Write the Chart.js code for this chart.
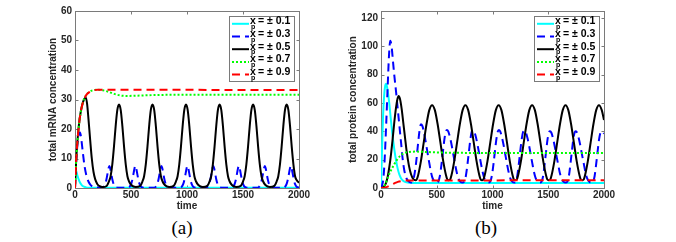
<!DOCTYPE html>
<html>
<head>
<meta charset="utf-8">
<script src="https://cdn.jsdelivr.net/npm/chart.js@4.4.0/dist/chart.umd.min.js"></script>
<style>
  html, body { margin: 0; padding: 0; background: #fff; }
  #pagina { position: relative; width: 676px; height: 242px; overflow: hidden; }
  canvas { position: absolute; top: 0; }
  #graficoA { left: 0; }
  #graficoB { left: 338px; }
  .legenda { position: absolute; top: 218px; width: 40px; margin-left: -20px; text-align: center;
             font-family: "Liberation Serif", "Times New Roman", serif;
             font-size: 19px; line-height: 20px; color: #000; }
</style>
</head>
<body>
<div id="pagina">
  <canvas id="graficoA" width="338" height="215"></canvas>
  <canvas id="graficoB" width="338" height="215"></canvas>
  <div class="legenda" style="left:182px">(a)</div>
  <div class="legenda" style="left:486px">(b)</div>
</div>
<script>
// eixos e rotulos
const tempoTicks = [0, 500, 1000, 1500, 2000];
const mrnaTicks = [0, 10, 20, 30, 40, 50, 60];
const proteinaTicks = [0, 20, 40, 60, 80, 100, 120];
const rotulos = ['0.1', '0.3', '0.5', '0.7', '0.9'];

// (a) mRNA total, pares [tempo, valor]
const mrna01 = [[0,0],[3,5],[8,6],[15,5.2],[25,3.8],[40,2.2],[60,1.0],[80,0.45],[100,0.2],[140,0.08],[200,0.05],[2000,0.05]];
const mrna03 = [[0,0],[8,7],[18,13],[30,17.5],[45,18.8],[58,16],[70,12],[85,7.5],[100,4.5],[120,2.2],[140,1.0],[165,0.4],[200,0.15],[242,0.1],
  [255,0.4],[268,1.2],[280,2.8],[292,5.2],[300,6.8],[307,7.5],[314,6.8],[322,5.2],[334,2.8],[346,1.2],[359,0.4],[380,0.12],[474,0.1],
  [487,0.4],[500,1.2],[512,2.8],[524,5.2],[532,6.8],[539,7.5],[546,6.8],[554,5.2],[566,2.8],[578,1.2],[591,0.4],[612,0.12],[707,0.1],
  [720,0.4],[733,1.2],[745,2.8],[757,5.2],[765,6.8],[772,7.5],[779,6.8],[787,5.2],[799,2.8],[811,1.2],[824,0.4],[845,0.12],[939,0.1],
  [952,0.4],[965,1.2],[977,2.8],[989,5.2],[997,6.8],[1004,7.5],[1011,6.8],[1019,5.2],[1031,2.8],[1043,1.2],[1056,0.4],[1077,0.12],[1170,0.1],
  [1183,0.4],[1196,1.2],[1208,2.8],[1220,5.2],[1228,6.8],[1235,7.5],[1242,6.8],[1250,5.2],[1262,2.8],[1274,1.2],[1287,0.4],[1308,0.12],[1398,0.1],
  [1411,0.4],[1424,1.2],[1436,2.8],[1448,5.2],[1456,6.8],[1463,7.5],[1470,6.8],[1478,5.2],[1490,2.8],[1502,1.2],[1515,0.4],[1536,0.12],[1630,0.1],
  [1643,0.4],[1656,1.2],[1668,2.8],[1680,5.2],[1688,6.8],[1695,7.5],[1702,6.8],[1710,5.2],[1722,2.8],[1734,1.2],[1747,0.4],[1768,0.12],[1862,0.1],
  [1875,0.4],[1888,1.2],[1900,2.8],[1912,5.2],[1920,6.8],[1927,7.5],[1934,6.8],[1942,5.2],[1954,2.8],[1966,1.2],[1979,0.4],[2000,0.12]];
const mrna05 = [[0,0],[10,9],[20,15],[30,19.5],[40,23],[50,25.5],[65,28.2],[80,30],[96,30.7],[108,28.5],[120,23.5],[135,16.5],[150,10],[165,5.5],[180,3],[200,1.3],[220,0.6],[245,0.35],
  [283,0.7],[303,2.2],[318,4],[333,8],[348,14],[363,21],[378,26.5],[393,28.3],[408,26.5],[423,21],[438,14],[453,8],[468,4],[483,2.2],[503,1.0],[542,0.35],
  [582,0.7],[602,2.2],[617,4],[632,8],[647,14],[662,21],[677,26.5],[692,28.3],[707,26.5],[722,21],[737,14],[752,8],[767,4],[782,2.2],[802,1.0],[841,0.35],
  [881,0.7],[901,2.2],[916,4],[931,8],[946,14],[961,21],[976,26.5],[991,28.3],[1006,26.5],[1021,21],[1036,14],[1051,8],[1066,4],[1081,2.2],[1101,1.0],[1141,0.35],
  [1181,0.7],[1201,2.2],[1216,4],[1231,8],[1246,14],[1261,21],[1276,26.5],[1291,28.3],[1306,26.5],[1321,21],[1336,14],[1351,8],[1366,4],[1381,2.2],[1401,1.0],[1440,0.35],
  [1480,0.7],[1500,2.2],[1515,4],[1530,8],[1545,14],[1560,21],[1575,26.5],[1590,28.3],[1605,26.5],[1620,21],[1635,14],[1650,8],[1665,4],[1680,2.2],[1700,1.0],[1740,0.35],
  [1780,0.7],[1800,2.2],[1815,4],[1830,8],[1845,14],[1860,21],[1875,26.5],[1890,28.3],[1905,26.5],[1920,21],[1935,14],[1950,8],[1965,4],[1980,2.6],[2000,1.8]];
const mrna07 = [[0,0],[10,9],[20,15],[30,19.5],[40,23],[50,25.5],[65,28.2],[80,30],[100,31.5],[125,32.5],[150,33],[200,33.3],[250,33.1],[300,32.6],[350,31.9],[400,31.4],[460,31.2],[550,31.3],[700,31.5],[900,31.6],[2000,31.6]];
const mrna09 = [[0,0],[10,9],[20,15],[30,19.5],[40,23],[50,25.5],[65,28.2],[80,30],[100,31.5],[125,32.4],[150,32.9],[200,33.3],[300,33.3],[2000,33.2]];

// (b) proteina total
const prot01 = [[0,0],[5,15],[10,30],[18,50],[28,65],[38,72.5],[45,73.7],[55,71],[65,66],[75,59],[90,47],[105,36],[120,27],[135,19.5],[150,13.5],[165,9.5],[185,6.2],[210,4.5],[250,3.7],[350,3.5],[2000,3.5]];
const prot03 = [[0,0],[10,2],[20,6],[30,16],[45,42],[60,72],[72,94],[83,104],[95,100],[108,89],[120,79],[135,68],[150,56],[165,44],[180,32],[195,20],[210,12],[225,7.5],[245,4.8],[268,3.8],
  [285,5],[300,9.5],[315,18],[328,28],[340,37],[350,43],[358,45],
  [370,44],[385,39.5],[400,33],[415,26],[430,19],[445,12.5],[460,7.5],[478,4.8],[498,3.8],
  [513,4.5],[528,8.5],[543,17],[556,26],[568,34],[580,39.5],[591,41],
  [603,40],[618,36],[633,30.5],[648,24],[663,17.5],[678,11.5],[693,7],[711,4.5],[731,3.8],
  [746,4.5],[761,8.5],[776,17],[789,26],[801,34],[813,39.5],[824,41],
  [836,40],[851,36],[866,30.5],[881,24],[896,17.5],[911,11.5],[926,7],[944,4.5],[964,3.8],
  [979,4.5],[994,8.5],[1009,17],[1022,26],[1034,34],[1046,39.5],[1057,41],
  [1069,40],[1084,36],[1099,30.5],[1114,24],[1129,17.5],[1144,11.5],[1159,7],[1177,4.5],[1197,3.8],
  [1210,4.5],[1222,8.5],[1236,17],[1249,26],[1261,34],[1274,39.5],[1286,40.5],
  [1298,39.5],[1313,35.5],[1328,30],[1343,23.5],[1358,17],[1373,11],[1388,6.8],[1406,4.5],[1426,3.8],
  [1440,4.5],[1454,8.5],[1468,17],[1481,26],[1493,34],[1505,39],[1516,40],
  [1528,39],[1543,35],[1558,29.5],[1573,23],[1588,17],[1603,11],[1618,6.8],[1636,4.5],[1656,3.8],
  [1671,4.5],[1685,8.5],[1699,17],[1712,26],[1724,34],[1736,39],[1747,40],
  [1759,39],[1774,35],[1789,29.5],[1804,23],[1819,17],[1834,11],[1849,6.8],[1867,4.5],[1887,3.8],
  [1902,4.5],[1916,8.5],[1930,17],[1943,26],[1955,34],[1968,39],[1981,40],[2000,38.5]];
const prot05 = [[0,0],[20,0.5],[40,2.5],[60,8],[75,15],[90,24],[105,35],[120,47],[135,57],[148,63],[158,65],[170,63],[185,56],[200,46],[215,36],[230,26],[250,16],[270,9.5],[290,6.2],[308,5.5],
  [320,6],[333,9],[358,19],[383,32],[408,45],[433,55],[458,58.5],[483,55],[508,45],[533,32],[558,19],[583,9],[595,6],[607,5.5],
  [620,6],[632,9],[657,19],[682,32],[707,45],[732,55],[757,58.5],[782,55],[807,45],[832,32],[857,19],[882,9],[894,6],[906,5.5],
  [918,6],[930,9],[955,19],[980,32],[1005,45],[1030,55],[1055,58.5],[1080,55],[1105,45],[1130,32],[1155,19],[1180,9],[1192,6],[1205,5.5],
  [1218,6],[1230,9],[1255,19],[1280,32],[1305,45],[1330,55],[1355,58.5],[1380,55],[1405,45],[1430,32],[1455,19],[1480,9],[1492,6],[1505,5.5],
  [1518,6],[1530,9],[1555,19],[1580,32],[1605,45],[1630,55],[1655,58.5],[1680,55],[1705,45],[1730,32],[1755,19],[1780,9],[1792,6],[1805,5.5],
  [1818,6],[1830,9],[1855,19],[1880,32],[1905,45],[1930,55],[1955,58.5],[1980,55],[2000,48]];
const prot07 = [[0,0],[20,0.5],[40,3],[60,7],[80,11],[100,14],[120,17],[140,19.5],[170,22.5],[200,24.3],[250,25.4],[320,25.7],[420,25.4],[550,25],[800,24.8],[2000,24.8]];
const prot09 = [[0,0],[30,0.2],[60,1.0],[90,2.2],[120,3.3],[150,4.3],[190,5.0],[240,5.3],[2000,5.4]];

const estilos = [
  { cor: '#00ffff', traco: [] },
  { cor: '#0000ff', traco: [8, 5] },
  { cor: '#000000', traco: [] },
  { cor: '#00ff00', traco: [2, 2] },
  { cor: '#ff0000', traco: [8, 5] }
];

const familia = '"Liberation Sans", Arial, sans-serif';
Chart.defaults.font.family = familia;

function MontarDatasets(series) {
    return series.map(function (serie, i) {
        return {
            label: 'x_p = \u00b1 ' + rotulos[i],
            data: serie.map(function (p) { return { x: p[0], y: p[1] }; }),
            borderColor: estilos[i].cor,
            borderDash: estilos[i].traco,
            borderWidth: 2,
            pointRadius: 0,
            fill: false,
            cubicInterpolationMode: 'monotone',
            order: 5 - i
        };
    });
}

function DesenharMoldura(chart) {
    const ctx = chart.ctx, a = chart.chartArea;
    const sx = chart.scales.x, sy = chart.scales.y;
    const l = Math.round(a.left) + 0.5, r = Math.round(a.right) + 0.5;
    const t = Math.round(a.top) + 0.5, b = Math.round(a.bottom) + 0.5;
    ctx.save();
    ctx.strokeStyle = '#7a7a7a';
    ctx.lineWidth = 1;
    ctx.strokeRect(l, t, r - l, b - t);
    ctx.beginPath();
    sx.ticks.forEach(function (tk) {
        const px = Math.round(sx.getPixelForValue(tk.value)) + 0.5;
        ctx.moveTo(px, b); ctx.lineTo(px, b - 3);
        ctx.moveTo(px, t); ctx.lineTo(px, t + 3);
    });
    sy.ticks.forEach(function (tk) {
        const py = Math.round(sy.getPixelForValue(tk.value)) + 0.5;
        ctx.moveTo(l, py); ctx.lineTo(l + 3, py);
        ctx.moveTo(r, py); ctx.lineTo(r - 3, py);
    });
    ctx.stroke();
    ctx.restore();
}

function DesenharLegenda(chart) {
    const ctx = chart.ctx, a = chart.chartArea;
    const x0 = Math.round(a.right) - 70, y0 = Math.round(a.top) + 5;
    ctx.save();
    ctx.fillStyle = '#fff';
    ctx.fillRect(x0, y0, 65, 65);
    ctx.strokeStyle = '#7a7a7a';
    ctx.lineWidth = 1;
    ctx.strokeRect(x0 + 0.5, y0 + 0.5, 65, 65);
    chart.data.datasets.forEach(function (ds, i) {
        const yc = y0 + 5.5 + 12.7 * i;
        ctx.setLineDash(ds.borderDash);
        ctx.strokeStyle = ds.borderColor;
        ctx.lineWidth = 2;
        ctx.beginPath();
        ctx.moveTo(x0 + 3, yc + 2.3);
        ctx.lineTo(x0 + 20, yc + 2.3);
        ctx.stroke();
        ctx.setLineDash([]);
        ctx.fillStyle = '#000';
        ctx.textBaseline = 'middle';
        ctx.font = 'bold 10.5px ' + familia;
        ctx.fillText('x', x0 + 21, yc);
        ctx.font = 'bold 7px ' + familia;
        ctx.fillText('p', x0 + 22, yc + 5.5);
        ctx.font = 'bold 10.5px ' + familia;
        ctx.fillText('= \u00b1 ' + rotulos[i], x0 + 29, yc);
    });
    ctx.restore();
}

const estiloMatlab = {
    id: 'estiloMatlab',
    beforeDatasetsDraw: DesenharMoldura,
    afterDatasetsDraw: DesenharLegenda
};

function Opcoes(yMax, yTicks, tituloY, padEsq, largY, padDir) {
    const fonteTick = { size: 10, weight: 'bold', lineHeight: 1 };
    return {
        responsive: false,
        animation: false,
        events: [],
        layout: { padding: { left: padEsq, right: padDir, top: 11, bottom: 3 } },
        plugins: { legend: { display: false }, tooltip: { enabled: false } },
        scales: {
            x: {
                type: 'linear', min: 0, max: 2000,
                grid: { display: false, drawTicks: false },
                border: { display: false },
                ticks: { padding: 2, color: '#262626', font: fonteTick, callback: function (v) { return String(v); } },
                afterBuildTicks: function (s) { s.ticks = tempoTicks.map(function (v) { return { value: v }; }); },
                afterFit: function (s) { s.height = 24; },
                title: { display: true, text: 'time', color: '#262626', font: { size: 10, weight: 'bold' }, padding: 0 }
            },
            y: {
                type: 'linear', min: 0, max: yMax,
                grid: { display: false, drawTicks: false },
                border: { display: false },
                ticks: { padding: 3, color: '#262626', font: fonteTick, callback: function (v) { return String(v); } },
                afterBuildTicks: function (s) { s.ticks = yTicks.map(function (v) { return { value: v }; }); },
                afterFit: function (s) { s.width = largY; },
                title: { display: true, text: tituloY, color: '#262626', font: { size: 10, weight: 'bold' }, padding: 0 }
            }
        }
    };
}

new Chart(document.getElementById('graficoA'), {
    type: 'line',
    data: { datasets: MontarDatasets([mrna01, mrna03, mrna05, mrna07, mrna09]) },
    options: Opcoes(60, mrnaTicks, 'total mRNA concentration', 47, 28, 39),
    plugins: [estiloMatlab]
});

new Chart(document.getElementById('graficoB'), {
    type: 'line',
    data: { datasets: MontarDatasets([prot01, prot03, prot05, prot07, prot09]) },
    options: Opcoes(125, proteinaTicks, 'total protein concentration', 9, 34, 72),
    plugins: [estiloMatlab]
});
</script>
</body>
</html>
